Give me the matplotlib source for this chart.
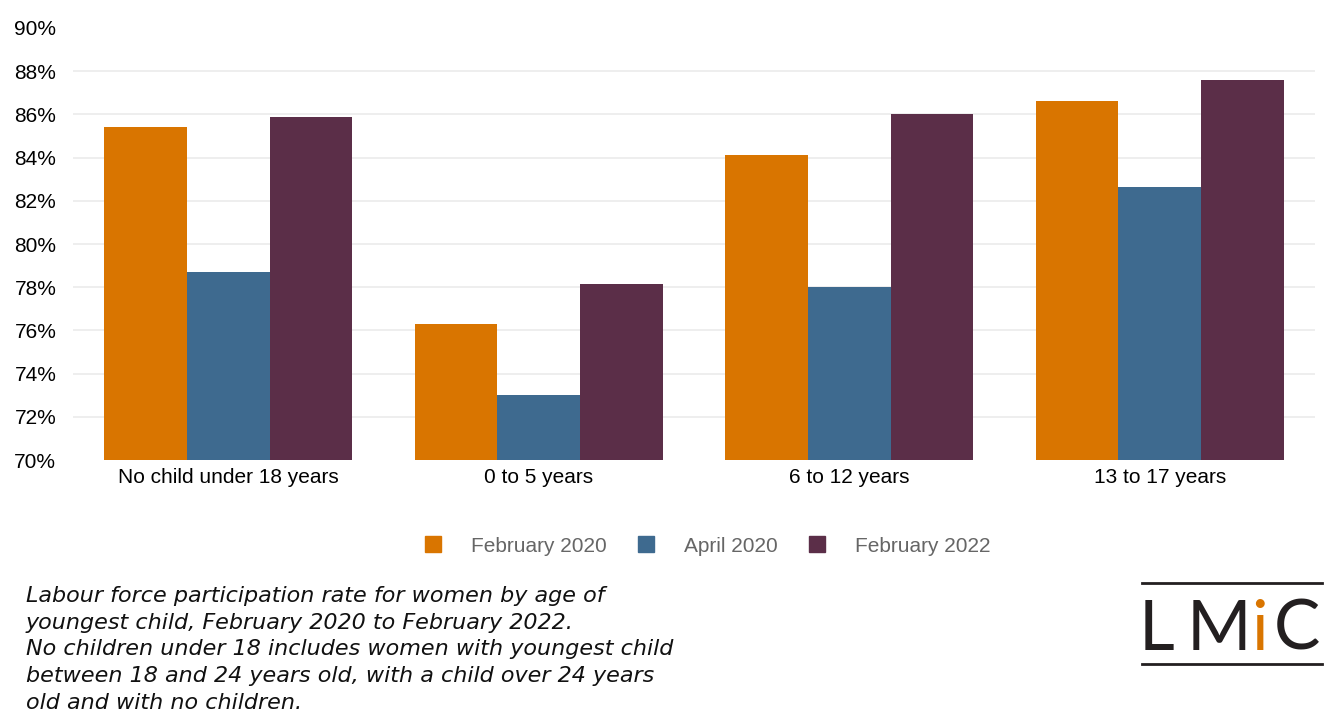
import numpy as np
import matplotlib
matplotlib.use("Agg")
import matplotlib.pyplot as plt
from matplotlib.lines import Line2D

categories = ["No child under 18 years", "0 to 5 years", "6 to 12 years", "13 to 17 years"]
series_names = ["February 2020", "April 2020", "February 2022"]
feb_2020 = [85.4, 76.3, 84.1, 86.6]
apr_2020 = [78.7, 73.0, 78.0, 82.65]
feb_2022 = [85.9, 78.15, 86.0, 87.6]
colors = ["#D97500", "#3E6A8F", "#5B2E48"]
y_ticks = list(range(70, 91, 2))

caption = ("Labour force participation rate for women by age of\n"
           "youngest child, February 2020 to February 2022.\n"
           "No children under 18 includes women with youngest child\n"
           "between 18 and 24 years old, with a child over 24 years\n"
           "old and with no children.")

plt.rcParams["font.family"] = ["Liberation Sans", "DejaVu Sans"]

W, H = 1341, 718
fig = plt.figure(figsize=(W / 100, H / 100), dpi=100)
ax = fig.add_axes([73 / W, 1 - 460 / H, (1315 - 73) / W, (460 - 28) / H])

x = np.arange(len(categories))
width = 0.8 / 3
for i, (vals, name) in enumerate(zip([feb_2020, apr_2020, feb_2022], series_names)):
    ax.bar(x + (i - 1) * width, np.array(vals) - 70, width, bottom=70,
           color=colors[i], label=name, zorder=2, edgecolor="none")

# light gridlines, none on the outer ticks
for t in y_ticks[1:-1]:
    ax.axhline(t, color="#EBEBEB", linewidth=1.2, zorder=0)

ax.set_xlim(-0.5, 3.5)
ax.set_ylim(70, 90)
ax.set_yticks(y_ticks)
ax.set_yticklabels([f"{t}%" for t in y_ticks])
ax.set_xticks(x)
ax.set_xticklabels(categories)
ax.tick_params(axis="both", length=0, labelsize=15, colors="black")
ax.tick_params(axis="y", pad=12)
ax.tick_params(axis="x", pad=6)
for s in ax.spines.values():
    s.set_visible(False)

handles = [Line2D([], [], marker="s", linestyle="none", markersize=11,
                  markerfacecolor=c, markeredgecolor=c) for c in colors]
leg = fig.legend(handles, series_names, loc="center", ncol=3,
                 bbox_to_anchor=(0.523, 1 - 546 / H), frameon=False,
                 fontsize=15, handletextpad=0.8, columnspacing=0.9)
for t in leg.get_texts():
    t.set_color("#666666")

fig.text(26 / W, 1 - 586 / H, caption, ha="left", va="top", fontsize=16,
         style="italic", family=["DejaVu Sans"], linespacing=1.42,
         color="#111111")

# LMIC logo
fig.add_artist(Line2D([1142 / W, 1322 / W], [1 - 583 / H] * 2, color="#231F20", lw=2))
fig.add_artist(Line2D([1142 / W, 1322 / W], [1 - 664 / H] * 2, color="#231F20", lw=2))
logo_y = 1 - 650 / H
for letter, lx, c in [("L", 1139, "#231F20"), ("M", 1187, "#231F20"),
                      ("i", 1251, "#D97500"), ("C", 1274, "#231F20")]:
    fig.text(lx / W, logo_y, letter, fontsize=50, color=c, ha="left",
             va="baseline", family=["Lato", "DejaVu Sans"])

fig.savefig("out.png", dpi=100)
